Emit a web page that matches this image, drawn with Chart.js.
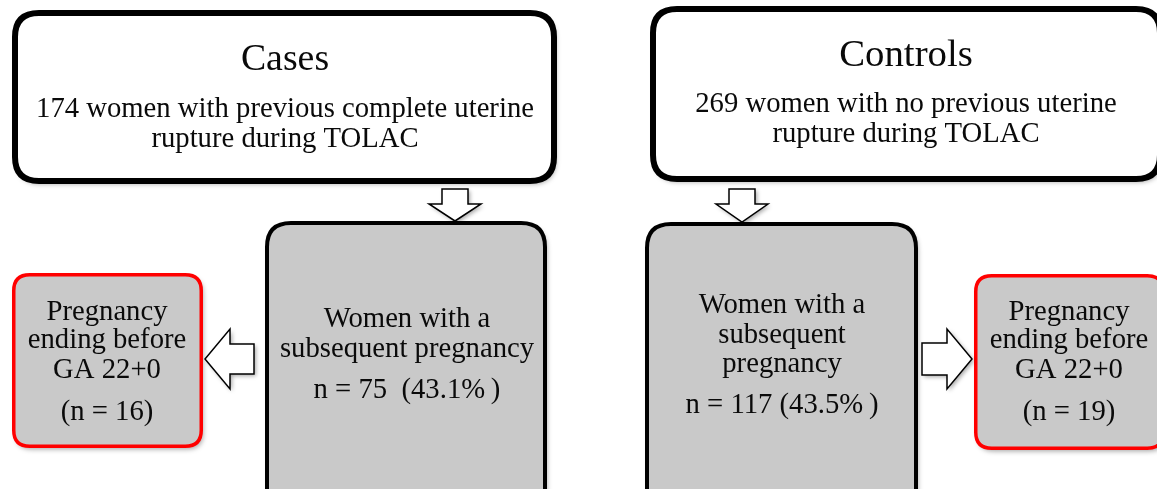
<!DOCTYPE html>
<html>
<head>
<meta charset="utf-8">
<script src="https://cdn.jsdelivr.net/npm/chart.js@4"></script>
<style>
  body { margin: 0; background: #fff; }
  #flow { display: block; }
</style>
</head>
<body>
<canvas id="flow" width="1157" height="489"></canvas>
<script>
// Flowchart values
const groups = ['Cases', 'Controls'];
const totalWomen = [174, 269];
const cohortLine1 = ['women with previous complete uterine', 'women with no previous uterine'];
const cohortLine2 = ['rupture during TOLAC', 'rupture during TOLAC'];
const subsequentN = [75, 117];
const subsequentPct = [43.1, 43.5];
const earlyEndN = [16, 19];

// Layout of the boxes in chart units (x: 0..1157, y: 0..489 top-down)
const layout = {
  top: [
    { x0: 12, y0: 10, x1: 557, y1: 184, cx: 285, title: 70, l1: 117, l2: 147 },
    { x0: 650, y0: 6, x1: 1163, y1: 182, cx: 906, title: 66, l1: 112, l2: 142 }
  ],
  mid: [
    { x0: 265, y0: 221, x1: 547, y1: 530, cx: 407, lines: [327, 357, 398] },
    { x0: 645, y0: 222, x1: 918, y1: 530, cx: 782, lines: [313, 343, 372, 413] }
  ],
  side: [
    { x0: 12, y0: 273, x1: 203, y1: 448, cx: 107, lines: [320, 348, 378, 420] },
    { x0: 974, y0: 274, x1: 1165, y1: 450, cx: 1069, lines: [320, 348, 378, 420] }
  ],
  down: [
    { cx: 455, top: 189, neck: 204, tip: 221, shaft: 13, head: 26 },
    { cx: 742, top: 189, neck: 204, tip: 222, shaft: 13, head: 26 }
  ],
  side_arrow: [
    { cy: 359, back: 254, neck: 230, tip: 205, shaft: 15, head: 30 },
    { cy: 359, back: 922, neck: 947, tip: 972, shaft: 16, head: 30 }
  ]
};

function roundBox(ctx, x, y, w, h, r) {
  ctx.beginPath();
  ctx.moveTo(x + r, y);
  ctx.lineTo(x + w - r, y);
  ctx.quadraticCurveTo(x + w, y, x + w, y + r);
  ctx.lineTo(x + w, y + h - r);
  ctx.quadraticCurveTo(x + w, y + h, x + w - r, y + h);
  ctx.lineTo(x + r, y + h);
  ctx.quadraticCurveTo(x, y + h, x, y + h - r);
  ctx.lineTo(x, y + r);
  ctx.quadraticCurveTo(x, y, x + r, y);
  ctx.closePath();
}

const flowPlugin = {
  id: 'flow',
  afterDraw(chart) {
    const ctx = chart.ctx;
    const sx = chart.scales.x, sy = chart.scales.y;
    const px = v => sx.getPixelForValue(v);
    const py = v => sy.getPixelForValue(v);

    function box(b, fill, stroke, lw, r) {
      const x = px(b.x0) + lw / 2, y = py(b.y0) + lw / 2;
      const w = px(b.x1) - px(b.x0) - lw, h = py(b.y1) - py(b.y0) - lw;
      ctx.save();
      ctx.shadowColor = 'rgba(0,0,0,0.35)';
      ctx.shadowBlur = 5;
      ctx.shadowOffsetX = 2;
      ctx.shadowOffsetY = 3;
      roundBox(ctx, x, y, w, h, r);
      ctx.fillStyle = fill;
      ctx.fill();
      ctx.restore();
      roundBox(ctx, x, y, w, h, r);
      ctx.lineWidth = lw;
      ctx.strokeStyle = stroke;
      ctx.stroke();
    }

    function text(str, cx, base, size) {
      ctx.save();
      ctx.font = size + 'px "Liberation Serif", "Times New Roman", serif';
      ctx.fillStyle = '#0a0a0a';
      ctx.textAlign = 'center';
      ctx.textBaseline = 'alphabetic';
      ctx.fillText(str, px(cx), py(base));
      ctx.restore();
    }

    function poly(pts) {
      ctx.save();
      ctx.shadowColor = 'rgba(0,0,0,0.35)';
      ctx.shadowBlur = 4;
      ctx.shadowOffsetX = 2;
      ctx.shadowOffsetY = 2;
      ctx.beginPath();
      pts.forEach((p, i) => i ? ctx.lineTo(px(p[0]), py(p[1])) : ctx.moveTo(px(p[0]), py(p[1])));
      ctx.closePath();
      ctx.fillStyle = '#fff';
      ctx.fill();
      ctx.restore();
      ctx.beginPath();
      pts.forEach((p, i) => i ? ctx.lineTo(px(p[0]), py(p[1])) : ctx.moveTo(px(p[0]), py(p[1])));
      ctx.closePath();
      ctx.lineWidth = 1.5;
      ctx.strokeStyle = '#000';
      ctx.lineJoin = 'miter';
      ctx.stroke();
    }

    // down arrows (drawn first so boxes sit on top of the tips)
    layout.down.forEach(a => {
      poly([
        [a.cx - a.shaft, a.top], [a.cx + a.shaft, a.top], [a.cx + a.shaft, a.neck],
        [a.cx + a.head, a.neck], [a.cx, a.tip], [a.cx - a.head, a.neck], [a.cx - a.shaft, a.neck]
      ]);
    });

    // top boxes
    const titleSize = [37.8, 38.8];
    groups.forEach((g, i) => {
      const b = layout.top[i];
      box(b, '#ffffff', '#000000', 6, 24);
      text(g, b.cx, b.title, titleSize[i]);
      text(totalWomen[i] + ' ' + cohortLine1[i], b.cx, b.l1, 28.7);
      text(cohortLine2[i], b.cx, b.l2, 28.7);
    });

    // subsequent pregnancy boxes
    const midLines = [
      ['Women with a', 'subsequent pregnancy', 'n = ' + subsequentN[0] + '  (' + subsequentPct[0].toFixed(1) + '%\u2009)'],
      ['Women with a', 'subsequent', 'pregnancy', 'n = ' + subsequentN[1] + ' (' + subsequentPct[1].toFixed(1) + '%\u2009)']
    ];
    layout.mid.forEach((b, i) => {
      box(b, '#c9c9c9', '#000000', 4, 24);
      midLines[i].forEach((s, j) => text(s, b.cx, b.lines[j], 28.7));
    });

    // early-ending boxes
    layout.side.forEach((b, i) => {
      box(b, '#c9c9c9', '#ff0000', 3.5, 16);
      const lines = ['Pregnancy', 'ending before', 'GA 22+0', '(n = ' + earlyEndN[i] + ')'];
      lines.forEach((s, j) => text(s, b.cx, b.lines[j], 28.7));
    });

    // side arrows
    layout.side_arrow.forEach(a => {
      poly([
        [a.back, a.cy - a.shaft], [a.neck, a.cy - a.shaft], [a.neck, a.cy - a.head],
        [a.tip, a.cy], [a.neck, a.cy + a.head], [a.neck, a.cy + a.shaft], [a.back, a.cy + a.shaft]
      ]);
    });
  }
};

new Chart(document.getElementById('flow').getContext('2d'), {
  type: 'scatter',
  data: { datasets: [{ data: [] }] },
  options: {
    responsive: false,
    animation: false,
    events: [],
    layout: { padding: 0 },
    plugins: { legend: { display: false }, tooltip: { enabled: false } },
    scales: {
      x: { type: 'linear', min: 0, max: 1157, display: false },
      y: { type: 'linear', min: 0, max: 489, reverse: true, display: false }
    }
  },
  plugins: [flowPlugin]
});
</script>
</body>
</html>
